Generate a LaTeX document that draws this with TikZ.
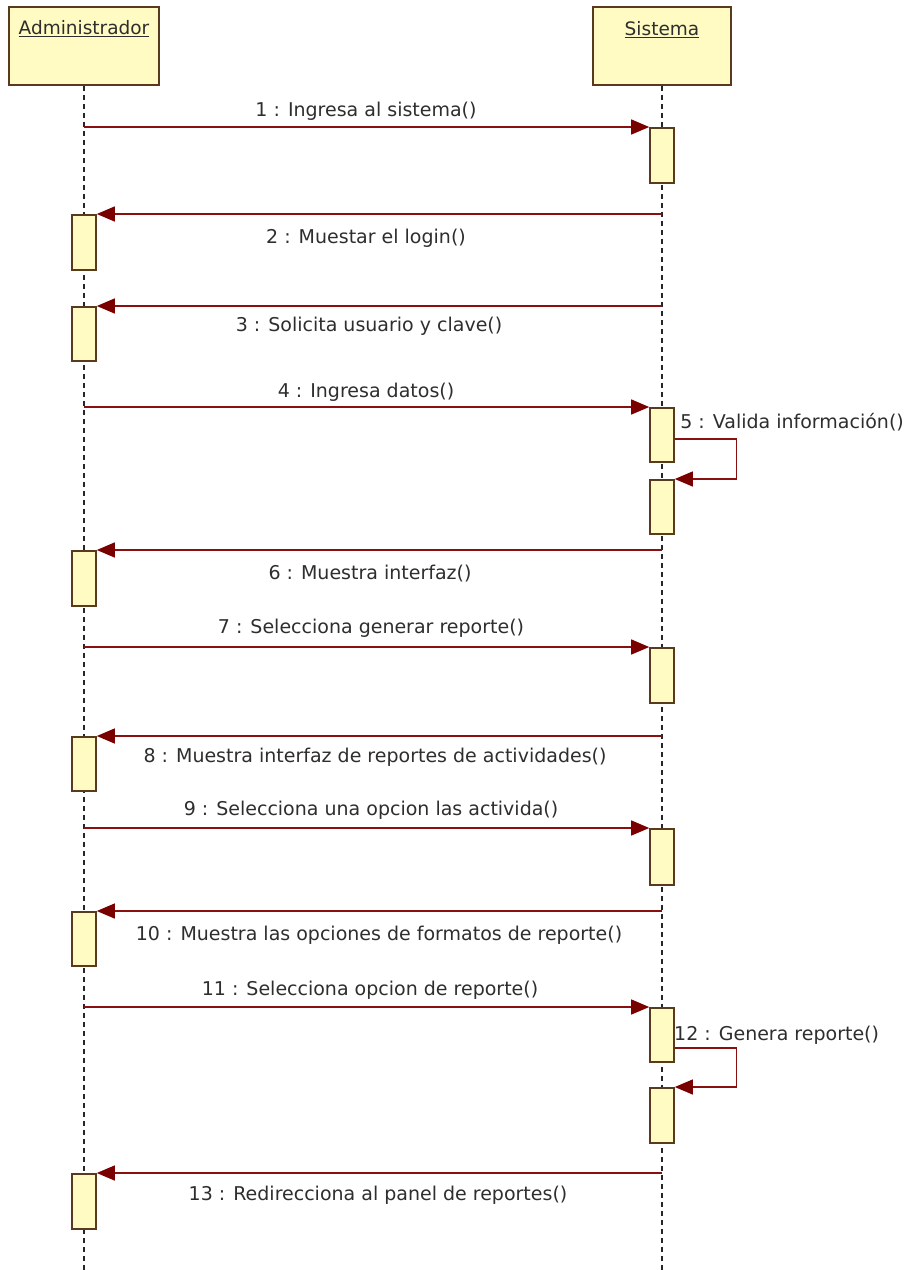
\documentclass[tikz,border=0pt]{standalone}
\usepackage{fontspec}
\setmainfont{DejaVu Sans}
\usetikzlibrary{arrows.meta}

\definecolor{yel}{HTML}{FFFBC2}
\definecolor{brd}{HTML}{5A3A1E}
\definecolor{mar}{HTML}{8A1010}
\definecolor{arr}{HTML}{7A0000}
\definecolor{txtc}{HTML}{2E2E2E}

\begin{document}
\begin{tikzpicture}[x=1pt,y=-1pt,
  obj/.style={draw=brd, fill=yel, line width=1.8pt, inner sep=0,
    minimum height=78pt, anchor=north},
  act/.style={draw=brd, fill=yel, line width=1.6pt, inner sep=0,
    minimum width=24pt, minimum height=55pt, anchor=north},
  life/.style={draw=black!85, line width=1.5pt, dash pattern=on 5pt off 4pt},
  msg/.style={draw=mar, line width=1.3pt,
    -{Triangle[length=18pt,width=15pt,fill=arr,color=arr]}},
  lbl/.style={font=\fontsize{19}{22}\selectfont, text=txtc, inner sep=0},
  head/.style={font=\fontsize{18.5}{22}\selectfont, text=txtc, inner sep=0}]
\useasboundingbox[fill=white] (0,0) rectangle (909,1270);

% participants
\node[obj, minimum width=150pt] (adm) at (84,6) {};
\node[obj, minimum width=138pt] (sys) at (662,6) {};
\node[head] (admT) at (84,29) {\underline{Administrador}};
\node[head] (sysT) at (662,30) {\underline{Sistema}};

% lifelines
\coordinate (admEnd) at (84,1270);
\coordinate (sysEnd) at (662,1270);
\draw[life] (adm.south) -- (admEnd);
\draw[life] (sys.south) -- (sysEnd);

% activation bars
\node[act] (s1) at (662,127) {};
\node[act] (a2) at (84,214) {};
\node[act, minimum height=54pt] (a3) at (84,306) {};
\node[act, minimum height=54pt] (s4) at (662,407) {};
\node[act, minimum height=54pt] (s5) at (662,479) {};
\node[act] (a6) at (84,550) {};
\node[act] (s7) at (662,647) {};
\node[act, minimum height=54pt] (a8) at (84,736) {};
\node[act, minimum height=56pt] (s9) at (662,828) {};
\node[act, minimum height=54pt] (a10) at (84,911) {};
\node[act, minimum height=54pt] (s11) at (662,1007) {};
\node[act] (s12) at (662,1087) {};
\node[act] (a13) at (84,1173) {};

% messages
\draw[msg] (adm.south |- s1.north west) -- (s1.north west);
\draw[msg] (sys.south |- a2.north east) -- (a2.north east);
\draw[msg] (sys.south |- a3.north east) -- (a3.north east);
\draw[msg] (adm.south |- s4.north west) -- (s4.north west);
\draw[msg] ([yshift=-32pt]s4.north east) -- ++(62,0) |- (s5.north east);
\draw[msg] (sys.south |- a6.north east) -- (a6.north east);
\draw[msg] (adm.south |- s7.north west) -- (s7.north west);
\draw[msg] (sys.south |- a8.north east) -- (a8.north east);
\draw[msg] (adm.south |- s9.north west) -- (s9.north west);
\draw[msg] (sys.south |- a10.north east) -- (a10.north east);
\draw[msg] (adm.south |- s11.north west) -- (s11.north west);
\draw[msg] ([yshift=-41pt]s11.north east) -- ++(62,0) |- (s12.north east);
\draw[msg] (sys.south |- a13.north east) -- (a13.north east);

% message labels
\node[lbl] (m1) at (366,111) {1 : Ingresa al sistema()};
\node[lbl] (m2) at (366,238) {2 : Muestar el login()};
\node[lbl] (m3) at (369,326) {3 : Solicita usuario y clave()};
\node[lbl] (m4) at (366,392) {4 : Ingresa datos()};
\node[lbl, anchor=east] (m5) at (904,422) {5 : Valida información()};
\node[lbl] (m6) at (370,574) {6 : Muestra interfaz()};
\node[lbl] (m7) at (371,628) {7 : Selecciona generar reporte()};
\node[lbl] (m8) at (375,757) {8 : Muestra interfaz de reportes de actividades()};
\node[lbl] (m9) at (371,810) {9 : Selecciona una opcion las activida()};
\node[lbl] (m10) at (379,935) {10 : Muestra las opciones de formatos de reporte()};
\node[lbl] (m11) at (370,990) {11 : Selecciona opcion de reporte()};
\node[lbl, anchor=west] (m12) at (674,1035) {12 : Genera reporte()};
\node[lbl] (m13) at (378,1195) {13 : Redirecciona al panel de reportes()};
\end{tikzpicture}
\end{document}
